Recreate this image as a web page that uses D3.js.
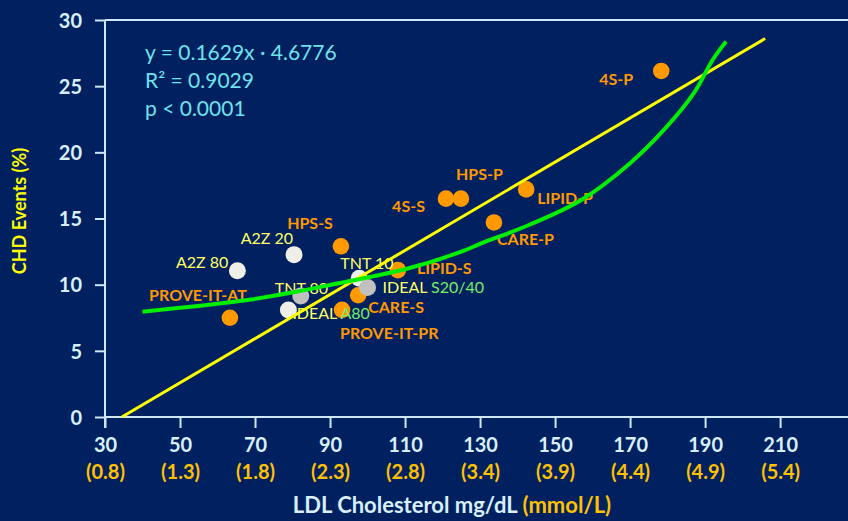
<!DOCTYPE html>
<html>
<head>
<meta charset="utf-8">
<script src="https://cdn.jsdelivr.net/npm/d3@7"></script>
<style>
  html, body { margin: 0; padding: 0; background: #002060; }
  svg { display: block; }
  text { font-family: Lato, "Open Sans", sans-serif; }
</style>
</head>
<body>
<svg id="chart" width="848" height="521"></svg>
<script>
// LDL cholesterol (mg/dL) tick values and their mmol/L equivalents
const xTicks = [30, 50, 70, 90, 110, 130, 150, 170, 190, 210];
const mmolLabels = ["(0.8)", "(1.3)", "(1.8)", "(2.3)", "(2.8)", "(3.4)", "(3.9)", "(4.4)", "(4.9)", "(5.4)"];
const yTicks = [0, 5, 10, 15, 20, 25, 30];

// Placebo / standard-therapy trial arms (orange)
const trialNames = ["4S-P", "4S-S", "HPS-P", "LIPID-P", "CARE-P", "HPS-S", "LIPID-S", "CARE-S", "PROVE-IT-PR", "PROVE-IT-AT"];
const trialLDL   = [178.3, 120.9, 124.9, 142.3, 133.7, 92.9, 108.1, 97.5, 93.2, 63.3];
const trialCHD   = [26.15, 16.5, 16.5, 17.2, 14.7, 12.9, 11.1, 9.2, 8.1, 7.5];

// Intensive-therapy arms (white / grey)
const armNames = ["A2Z 80", "A2Z 20", "TNT 80", "IDEAL A80", "TNT 10", "IDEAL S20/40"];
const armLDL   = [65.3, 80.4, 82.2, 78.9, 97.8, 100.0];
const armCHD   = [11.06, 12.27, 9.15, 8.09, 10.48, 9.78];
const armShade = ["white", "white", "grey", "white", "white", "grey"];

// Linear fit drawn across the plot
const fitLDL = [34.5, 206];
const fitCHD = [0, 28.6];

// Smoothed trend curve
const curveLDL = [40, 68, 81, 90, 111, 125, 130, 143, 157, 170, 179, 187, 192, 195.6];
const curveCHD = [7.96, 8.84, 9.47, 9.98, 11.24, 12.49, 13.08, 14.51, 16.4, 19.18, 21.69, 24.47, 26.98, 28.37];

const equationLines = ["y = 0.1629x \u00b7 4.6776", "R\u00b2 = 0.9029", "p < 0.0001"];

// ---- layout & style ----
const C = {
  bg: "#002060", axis: "#cde7f5", tick: "#d8eff9", mmol: "#ffc000",
  orange: "#ff9900", white: "#efefe8", grey: "#c0c0c0",
  armText: "#ffff66", armGreen: "#77ee66", eq: "#6fe3ec",
  fit: "#ffff00", curve: "#00ee00", yTitle: "#ffff00"
};

// label placement relative to each marker: [dx, dy, anchor]
const trialLabelPos = {
  "4S-P": [-28, 8, "end"], "4S-S": [-21, 8, "end"], "HPS-P": [-5, -24, "start"],
  "LIPID-P": [11, 9, "start"], "CARE-P": [3, 17, "start"], "HPS-S": [-8, -23, "end"],
  "LIPID-S": [19, -2, "start"], "CARE-S": [10, 12, "start"], "PROVE-IT-PR": [-2, 23, "start"],
  "PROVE-IT-AT": [17, -23, "end"]
};
const armLabelPos = {
  "A2Z 80": [-9, -8, "end"], "A2Z 20": [-1, -16, "end"], "TNT 80": [-26, -8, "start"],
  "IDEAL A80": [4, 3, "start"], "TNT 10": [-19, -15, "start"], "IDEAL S20/40": [15, 0, "start"]
};

const svg = d3.select("#chart");
svg.append("rect").attr("width", 848).attr("height", 521).attr("fill", C.bg);

const x = d3.scaleLinear().domain([30, 228.1]).range([105, 848]);
const y = d3.scaleLinear().domain([0, 30]).range([417, 20]);

// ---- axes ----
const yAxis = svg.append("g").attr("transform", "translate(105,0)")
  .call(d3.axisLeft(y).tickValues(yTicks).tickSize(10).tickPadding(13));
yAxis.select(".domain").remove();
yAxis.selectAll("line").attr("stroke", C.axis).attr("stroke-width", 2);
yAxis.selectAll("text").attr("fill", C.tick).attr("font-size", 20).attr("font-weight", "bold")
  .attr("font-family", "Lato, sans-serif").attr("dy", "0.36em");

const xAxis = svg.append("g").attr("transform", "translate(0,417)")
  .call(d3.axisBottom(x).tickValues(xTicks).tickSize(11));
xAxis.select(".domain").remove();
xAxis.selectAll("line").attr("stroke", C.axis).attr("stroke-width", 2);
xAxis.selectAll("text").attr("fill", C.tick).attr("font-size", 20).attr("font-weight", "bold")
  .attr("font-family", "Lato, sans-serif").attr("y", 28).attr("dy", "0.36em");
xAxis.selectAll(".tick").append("text")
  .text((d, i) => mmolLabels[i])
  .attr("fill", C.mmol).attr("font-size", 20).attr("font-weight", "bold")
  .attr("font-family", "Lato, sans-serif").attr("y", 55).attr("dy", "0.36em")
  .attr("text-anchor", "middle");

// axis frame lines
svg.append("line").attr("x1", 105).attr("x2", 105).attr("y1", 20).attr("y2", 428)
  .attr("stroke", C.axis).attr("stroke-width", 2);
svg.append("line").attr("x1", 105).attr("x2", 848).attr("y1", y(0)).attr("y2", y(0))
  .attr("stroke", C.axis).attr("stroke-width", 2);
svg.append("line").attr("x1", 105).attr("x2", 848).attr("y1", y(30)).attr("y2", y(30))
  .attr("stroke", C.axis).attr("stroke-width", 2);

// axis titles
const xt = svg.append("text").attr("x", 452).attr("y", 505).attr("dy", "0.36em")
  .attr("text-anchor", "middle").attr("font-size", 22).attr("font-weight", "bold");
xt.append("tspan").attr("fill", C.tick).text("LDL Cholesterol mg/dL ");
xt.append("tspan").attr("fill", C.mmol).text("(mmol/L)");

svg.append("text").attr("transform", "translate(20,211) rotate(-90)").attr("dy", "0.36em")
  .attr("text-anchor", "middle").attr("font-size", 18).attr("font-weight", "bold")
  .attr("fill", C.yTitle).text("CHD Events (%)");

// regression statistics
svg.append("g").selectAll("text").data(equationLines).join("text")
  .attr("x", 145).attr("y", (d, i) => 52 + i * 28).attr("dy", "0.36em")
  .attr("font-size", 21).attr("fill", C.eq).text(d => d);

// ---- markers & labels ----
const trials = trialNames.map((n, i) => ({ name: n, ldl: trialLDL[i], chd: trialCHD[i] }));
const arms = armNames.map((n, i) => ({ name: n, ldl: armLDL[i], chd: armCHD[i], shade: armShade[i] }));

svg.append("g").selectAll("circle").data(trials).join("circle")
  .attr("cx", d => x(d.ldl)).attr("cy", d => y(d.chd)).attr("r", 8.3).attr("fill", C.orange);

const armLabels = svg.append("g").selectAll("text").data(arms).join("text")
  .attr("x", d => x(d.ldl) + armLabelPos[d.name][0])
  .attr("y", d => y(d.chd) + armLabelPos[d.name][1])
  .attr("dy", "0.36em").attr("text-anchor", d => armLabelPos[d.name][2])
  .attr("font-size", 16);
armLabels.each(function (d) {
  const t = d3.select(this);
  const parts = d.name.split(" ");
  if (parts[0] === "IDEAL") {
    t.append("tspan").attr("fill", C.armText).text("IDEAL ");
    t.append("tspan").attr("fill", C.armGreen).text(parts[1]);
  } else {
    t.append("tspan").attr("fill", C.armText).text(d.name);
  }
});

svg.append("g").selectAll("circle").data(arms).join("circle")
  .attr("cx", d => x(d.ldl)).attr("cy", d => y(d.chd)).attr("r", 8.5)
  .attr("fill", d => d.shade === "grey" ? C.grey : C.white);

svg.append("g").selectAll("text").data(trials).join("text")
  .attr("x", d => x(d.ldl) + trialLabelPos[d.name][0])
  .attr("y", d => y(d.chd) + trialLabelPos[d.name][1])
  .attr("dy", "0.36em").attr("text-anchor", d => trialLabelPos[d.name][2])
  .attr("font-size", 16).attr("font-weight", "bold").attr("fill", C.orange)
  .text(d => d.name);

// ---- fit line and trend curve ----
svg.append("path")
  .datum(fitLDL.map((v, i) => [v, fitCHD[i]]))
  .attr("d", d3.line().x(d => x(d[0])).y(d => y(d[1])))
  .attr("fill", "none").attr("stroke", C.fit).attr("stroke-width", 3);

svg.append("path")
  .datum(curveLDL.map((v, i) => [v, curveCHD[i]]))
  .attr("d", d3.line().x(d => x(d[0])).y(d => y(d[1])).curve(d3.curveCatmullRom.alpha(0.5)))
  .attr("fill", "none").attr("stroke", C.curve).attr("stroke-width", 4);
</script>
</body>
</html>
